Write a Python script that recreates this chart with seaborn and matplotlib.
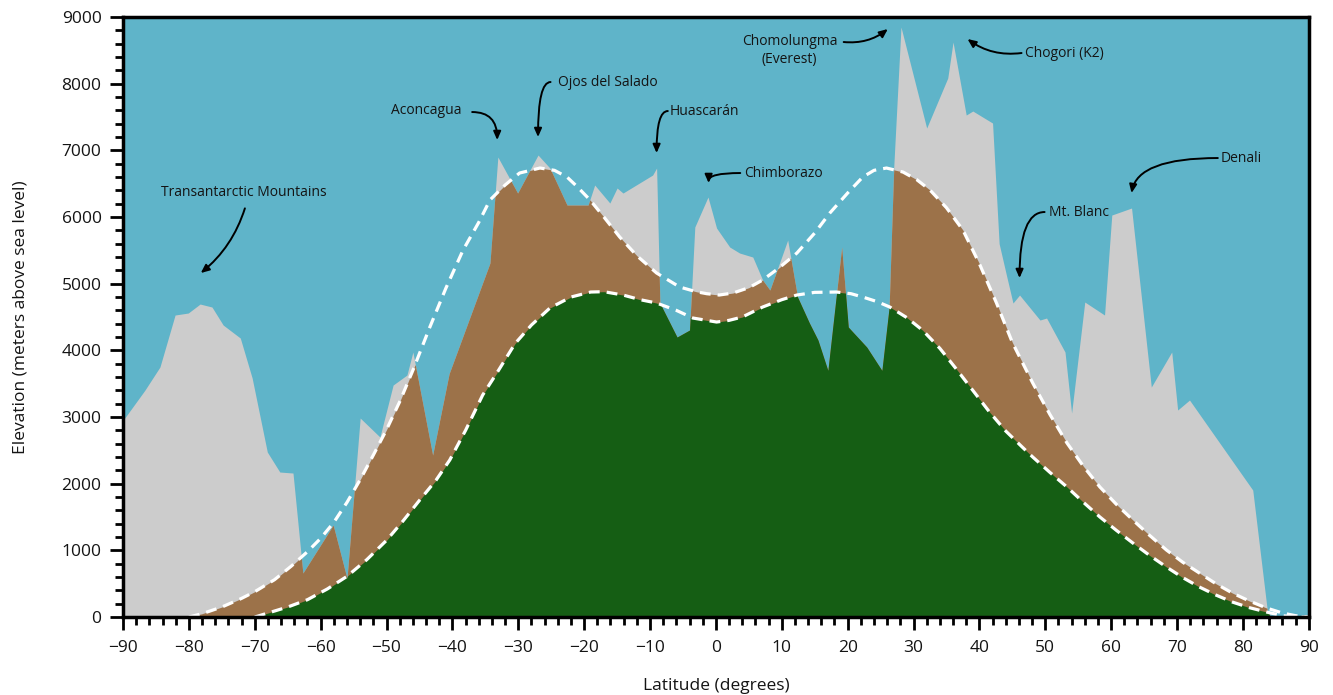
import numpy as np
import pandas as pd
import matplotlib
matplotlib.use("Agg")
import matplotlib.pyplot as plt
from matplotlib.ticker import MultipleLocator
import seaborn as sns

# Highest terrain along each latitude band (degrees, metres)
terrain_lat = [-90, -86.7, -84.4, -82.1, -80.1, -78.3, -76.5, -74.8, -72.2, -70.4, -68.1,
               -66.2, -64.2, -62.7, -58.1, -56.0, -54.0, -51.0, -49.0, -46.9, -46.0,
               -43.0, -40.5, -34.3, -33.1, -30.1, -27.0, -25.2, -22.6, -19.4, -18.4,
               -16.1, -15.0, -14.1, -9.6, -9.0, -8.5, -5.9, -4.0, -3.2, -1.2, 0.1,
               2.1, 3.6, 5.6, 7.1, 8.2, 10.9, 12.4, 14.2, 15.5, 17.0, 19.1, 20.1,
               22.9, 25.2, 26.3, 27.0, 28.1, 32.0, 35.2, 36.0, 38.0, 39.0, 42.0,
               43.0, 44.1, 45.1, 46.1, 49.2, 50.2, 53.0, 54.0, 56.0, 59.0, 60.1,
               63.1, 66.1, 69.2, 70.1, 71.9, 81.5, 83.7, 84.2, 90]
terrain_elev = [2950, 3400, 3750, 4530, 4560, 4695, 4650, 4380, 4185, 3585, 2475,
                2175, 2160, 660, 1380, 580, 2985, 2700, 3480, 3630, 3975,
                2430, 3650, 5310, 6900, 6360, 6930, 6735, 6180, 6180, 6480,
                6210, 6435, 6360, 6630, 6735, 4710, 4200, 4305, 5850, 6300, 5835,
                5550, 5460, 5400, 5055, 4905, 5655, 4800, 4410, 4155, 3700, 5550, 4350,
                4050, 3700, 4650, 6750, 8850, 7335, 8085, 8625, 7530, 7590, 7410,
                5600, 5130, 4710, 4830, 4455, 4485, 3975, 3060, 4725, 4530, 6030,
                6135, 3450, 3975, 3105, 3255, 1905, 105, 0, 0]

# Upper limit line (white dashes, upper)
upper_lat = [-80, -78, -75, -72, -70, -67, -64.5, -62, -60, -58, -56, -54, -52, -50,
             -48, -46, -43.5, -41, -38.4, -36, -34.3, -32, -29.8, -26.7, -24.5,
             -22.6, -21, -19.1, -17, -14.6, -12, -9, -5.5, -3, -1.4, 0.5, 2.6, 5,
             7.1, 9.5, 12.3, 15, 17.3, 20, 22.3, 24, 25.9, 28.4, 30.5, 32.5, 35,
             37.5, 40, 42.6, 45, 48.1, 50.7, 53.3, 55.8, 58.3, 60.8, 63.3, 65.9,
             68.4, 70.9, 73.4, 75.9, 78.4, 81, 83.6, 86, 88, 90]
upper_elev = [0, 50, 150, 280, 380, 560, 760, 980, 1180, 1420, 1720, 2060, 2430, 2810,
              3230, 3700, 4330, 4930, 5500, 5920, 6255, 6480, 6660, 6735, 6700,
              6600, 6450, 6255, 6000, 5700, 5420, 5160, 4950, 4880, 4850, 4830, 4860, 4940,
              5055, 5230, 5460, 5760, 6060, 6360, 6600, 6700, 6735, 6675, 6560, 6405, 6140,
              5805, 5300, 4710, 4120, 3510, 3040, 2610, 2260, 1950, 1690, 1455, 1220,
              1005, 820, 660, 500, 360, 240, 135, 60, 20, 0]

# Lower limit line (white dashes, lower)
lower_lat = [-70, -68, -65, -62, -59, -56, -53, -50, -47.5, -45, -42.5, -40.4, -38,
             -35.4, -33, -30.5, -28, -25.2, -22, -19, -17, -14.1, -11.5, -9, -6,
             -3.5, 0.1, 2, 4, 7.1, 10, 12.3, 15, 18.3, 20.5, 22.3, 24.5, 26.4, 29,
             31.4, 34, 36.5, 39, 41.5, 44, 46.5, 48.1, 50.7, 53.3, 55.8, 58.3, 60.8,
             63.3, 65.9, 68.4, 70.9, 73.4, 75.9, 78.4, 81, 83.6, 86, 88, 90]
lower_elev = [0, 60, 150, 260, 420, 610, 860, 1150, 1440, 1750, 2050, 2355, 2800,
              3330, 3700, 4100, 4380, 4635, 4800, 4875, 4880, 4830, 4760, 4710, 4600,
              4485, 4425, 4450, 4500, 4650, 4760, 4830, 4870, 4875, 4850, 4800, 4730, 4650, 4490,
              4300, 4030, 3720, 3400, 3080, 2790, 2550, 2400, 2170, 1950, 1720, 1500, 1300,
              1110, 920, 750, 590, 450, 330, 225, 140, 75, 20, 0, 0]

# Named peaks: label, text position, arrow start, arrow tip, connection style
peak_names = ["Transantarctic Mountains", "Aconcagua", "Ojos del Salado", "Huascarán",
              "Chimborazo", "Chomolungma\n(Everest)", "Chogori (K2)", "Mt. Blanc", "Denali"]
label_xy = [(-71.6, 6375), (-43.9, 7605), (-16.4, 8025), (-1.7, 7590), (10.2, 6660),
            (11.2, 8500), (52.9, 8460), (55.1, 6075), (79.8, 6885)]
arrow_from = [(-71.5, 6130), (-37.0, 7575), (-25.1, 8025), (-7.3, 7590), (3.7, 6660),
              (19.4, 8625), (46.4, 8460), (49.9, 6075), (76.2, 6885)]
arrow_to = [(-78.2, 5160), (-33.2, 7155), (-27.0, 7200), (-9.0, 6960), (-1.1, 6510),
            (26.1, 8820), (38.2, 8670), (46.1, 5085), (63.1, 6360)]
arrow_style = ["arc3,rad=-0.15", "angle3,angleA=0,angleB=90", "angle3,angleA=0,angleB=90",
               "angle3,angleA=0,angleB=90", "angle3,angleA=0,angleB=90", "arc3,rad=0.2",
               "arc3,rad=-0.2", "angle3,angleA=0,angleB=90", "angle3,angleA=0,angleB=80"]

SKY = "#5fb4c9"
ROCK = "#cccccc"
SHRUB = "#9c7249"
FOREST = "#155e14"
INK = "#141414"

sns.set_theme(style="ticks")
plt.rcParams["font.family"] = ["Open Sans", "DejaVu Sans"]

fig = plt.figure(figsize=(13.33, 6.95), dpi=100)
ax = fig.add_axes([0.0923, 0.1122, 0.8895, 0.8633])
ax.set_facecolor(SKY)

terrain = pd.DataFrame({"lat": terrain_lat, "elev": terrain_elev})
upper = pd.DataFrame({"lat": upper_lat, "elev": upper_elev})
lower = pd.DataFrame({"lat": lower_lat, "elev": lower_elev})

# Evaluate the piecewise-linear profiles on a shared grid so the bands can be clipped
grid = np.union1d(np.linspace(-90, 90, 3601),
                  np.concatenate([terrain.lat, upper.lat, lower.lat]))
g_terrain = np.interp(grid, terrain.lat, terrain.elev)
g_upper = np.interp(grid, upper.lat, upper.elev, left=0, right=0)
g_lower = np.interp(grid, lower.lat, lower.elev, left=0, right=0)

ax.fill_between(grid, 0, g_terrain, color=ROCK, linewidth=0)
ax.fill_between(grid, 0, np.minimum(g_terrain, g_upper), color=SHRUB, linewidth=0)
ax.fill_between(grid, 0, np.minimum(g_terrain, g_lower), color=FOREST, linewidth=0)

for df in (upper, lower):
    sns.lineplot(data=df, x="lat", y="elev", ax=ax, color="white", linewidth=2.3,
                 dashes=False, sort=False, estimator=None)
for line in ax.lines:
    line.set_dashes([3.4, 2.2])

for name, txy, a0, a1, cs in zip(peak_names, label_xy, arrow_from, arrow_to, arrow_style):
    ax.text(txy[0], txy[1], name, ha="center", va="center", fontsize=10,
            color=INK, linespacing=1.25)
    ax.annotate("", xy=a1, xytext=a0,
                arrowprops=dict(arrowstyle="-|>,head_length=0.5,head_width=0.22",
                                connectionstyle=cs, color="black", lw=1.4,
                                shrinkA=0, shrinkB=0, mutation_scale=10))

ax.set_xlim(-90, 90)
ax.set_ylim(0, 9000)
ax.xaxis.set_major_locator(MultipleLocator(10))
ax.xaxis.set_minor_locator(MultipleLocator(2))
ax.yaxis.set_major_locator(MultipleLocator(1000))
ax.yaxis.set_minor_locator(MultipleLocator(200))
ax.tick_params(which="both", direction="out", width=2, colors="black",
               labelcolor=INK, labelsize=12.5, bottom=True, left=True)
ax.tick_params(which="major", length=9.5)
ax.tick_params(which="minor", length=5.5)
ax.tick_params(axis="x", which="major", pad=7)
ax.tick_params(axis="y", which="major", pad=6)
for sp in ax.spines.values():
    sp.set_color("black")
    sp.set_linewidth(2.5)
ax.grid(False)

ax.set_xlabel("Latitude (degrees)", fontsize=12.5, color=INK, labelpad=16)
ax.set_ylabel("Elevation (meters above sea level)", fontsize=12.5, color=INK,
              labelpad=24)

fig.savefig("out.png", dpi=100)
